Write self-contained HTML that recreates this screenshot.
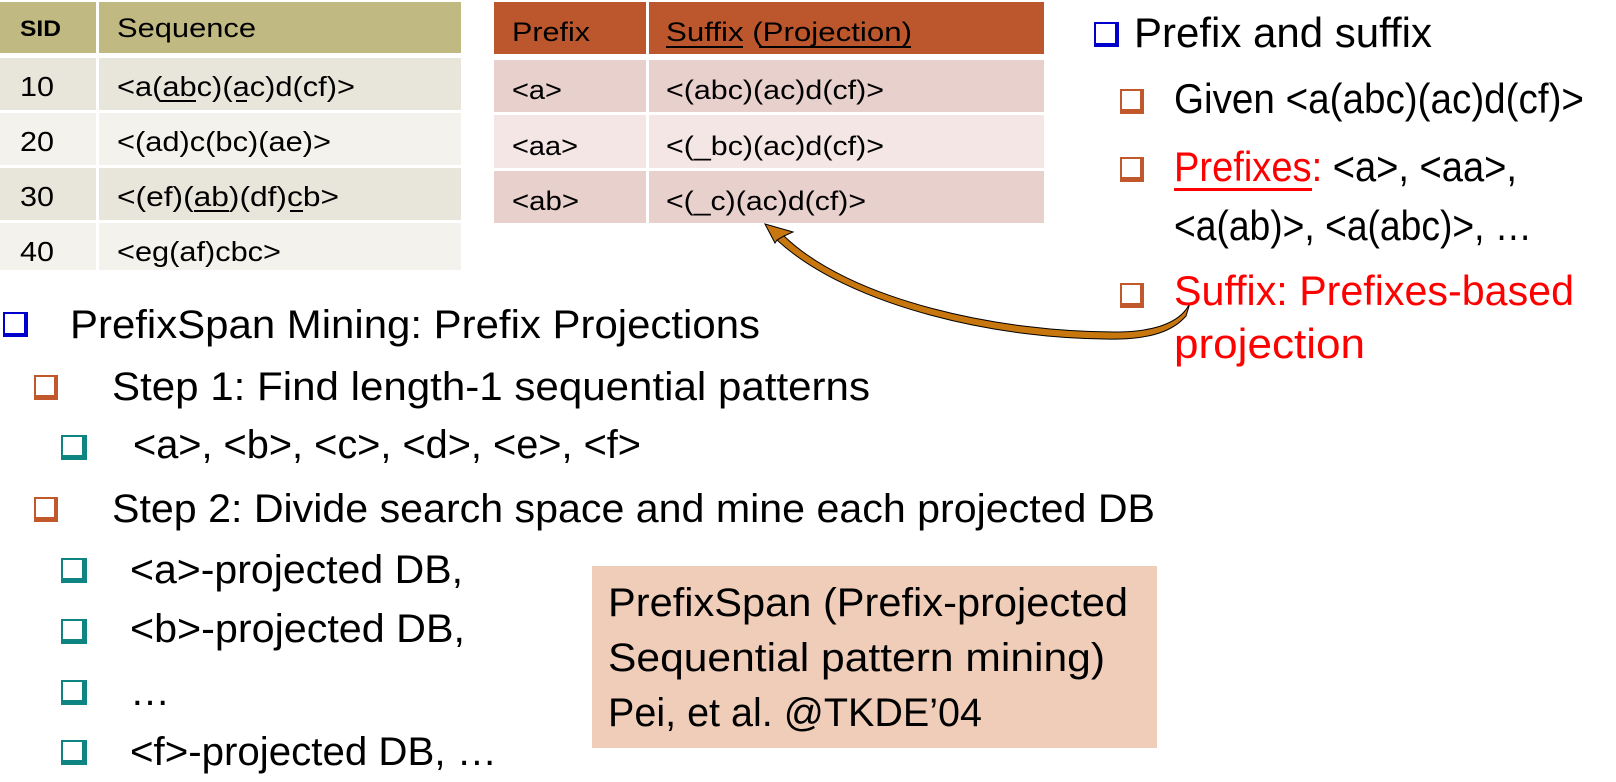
<!DOCTYPE html>
<html><head><meta charset="utf-8"><style>
html,body{margin:0;padding:0;background:#fff;}
svg{display:block;}
text{font-family:"Liberation Sans",sans-serif;fill:#000;}
</style></head><body>
<svg width="1616" height="782" viewBox="0 0 1616 782" xmlns="http://www.w3.org/2000/svg">
<defs>
<g id="bb"><rect x="0" y="0" width="25" height="25" fill="#0000cc"/><rect x="2" y="2" width="19" height="19" fill="#fff"/></g>
<g id="ob"><rect x="0" y="0" width="24" height="25" fill="#c0582c"/><rect x="2" y="2" width="18" height="18" fill="#fff"/></g>
<g id="tb"><rect x="0" y="0" width="26" height="25" fill="#0e8582"/><rect x="2" y="2" width="19" height="18" fill="#fff"/></g>
</defs>

<!-- Table 1 -->
<rect x="0" y="2" width="461" height="51" fill="#c0b982"/>
<rect x="0" y="58" width="461" height="52" fill="#e8e6da"/>
<rect x="0" y="113" width="461" height="52" fill="#f3f2ec"/>
<rect x="0" y="168" width="461" height="52" fill="#e8e6da"/>
<rect x="0" y="223" width="461" height="47" fill="#f3f2ec"/>
<rect x="96" y="0" width="3" height="272" fill="#fff"/>
<text x="20" y="36" font-size="22" font-weight="bold" textLength="41" lengthAdjust="spacingAndGlyphs">SID</text>
<text x="117" y="37" font-size="27" textLength="139" lengthAdjust="spacingAndGlyphs">Sequence</text>
<text x="20" y="96" font-size="28" textLength="34" lengthAdjust="spacingAndGlyphs">10</text>
<text x="117" y="96" font-size="28" textLength="238" lengthAdjust="spacingAndGlyphs">&lt;a(abc)(ac)d(cf)&gt;</text>
<rect x="161" y="100" width="35" height="2" fill="#000"/><rect x="236" y="100" width="11" height="2" fill="#000"/>
<text x="20" y="151" font-size="28" textLength="34" lengthAdjust="spacingAndGlyphs">20</text>
<text x="117" y="151" font-size="28" textLength="214" lengthAdjust="spacingAndGlyphs">&lt;(ad)c(bc)(ae)&gt;</text>
<text x="20" y="206" font-size="28" textLength="34" lengthAdjust="spacingAndGlyphs">30</text>
<text x="117" y="206" font-size="28" textLength="222" lengthAdjust="spacingAndGlyphs">&lt;(ef)(ab)(df)cb&gt;</text>
<rect x="194" y="210" width="35" height="2" fill="#000"/><rect x="290" y="210" width="13" height="2" fill="#000"/>
<text x="20" y="261" font-size="28" textLength="34" lengthAdjust="spacingAndGlyphs">40</text>
<text x="117" y="261" font-size="28" textLength="164" lengthAdjust="spacingAndGlyphs">&lt;eg(af)cbc&gt;</text>

<!-- Table 2 -->
<rect x="494" y="2" width="550" height="52" fill="#bc562c"/>
<rect x="494" y="60" width="550" height="52" fill="#e8d0cc"/>
<rect x="494" y="115" width="550" height="53" fill="#f3e6e4"/>
<rect x="494" y="171" width="550" height="52" fill="#e8d0cc"/>
<rect x="646" y="0" width="3" height="225" fill="#fff"/>
<text x="512" y="41" font-size="27" textLength="78" lengthAdjust="spacingAndGlyphs">Prefix</text>
<text x="666" y="41" font-size="27" textLength="246" lengthAdjust="spacingAndGlyphs">Suffix (Projection)</text>
<rect x="666" y="46" width="77" height="2" fill="#000"/><rect x="759" y="46" width="152" height="2" fill="#000"/>
<text x="512" y="99" font-size="27" textLength="50" lengthAdjust="spacingAndGlyphs">&lt;a&gt;</text>
<text x="666" y="99" font-size="27" textLength="218" lengthAdjust="spacingAndGlyphs">&lt;(abc)(ac)d(cf)&gt;</text>
<text x="512" y="155" font-size="27" textLength="66" lengthAdjust="spacingAndGlyphs">&lt;aa&gt;</text>
<text x="666" y="155" font-size="27" textLength="218" lengthAdjust="spacingAndGlyphs">&lt;(_bc)(ac)d(cf)&gt;</text>
<text x="512" y="210" font-size="27" textLength="67" lengthAdjust="spacingAndGlyphs">&lt;ab&gt;</text>
<text x="666" y="210" font-size="27" textLength="200" lengthAdjust="spacingAndGlyphs">&lt;(_c)(ac)d(cf)&gt;</text>

<!-- Arrow -->
<path d="M 784,236 C 850,300 1000,333 1120,332 C 1160,331 1182,320 1190,303 L 1186,316 C 1172,332 1150,338 1120,339 C 1000,341 848,306 777,240 Z" fill="#c8770f" stroke="#000" stroke-width="1"/>
<path d="M 765,224 L 793,232 L 784,236 L 777,240 L 775,243 Z" fill="#c8770f" stroke="#000" stroke-width="1"/>

<!-- Right column -->
<use href="#bb" x="1094" y="22"/>
<text x="1134" y="47" font-size="42" textLength="298" lengthAdjust="spacingAndGlyphs">Prefix and suffix</text>
<use href="#ob" x="1120" y="89"/>
<text x="1174" y="113" font-size="42" textLength="410" lengthAdjust="spacingAndGlyphs">Given &lt;a(abc)(ac)d(cf)&gt;</text>
<use href="#ob" x="1120" y="157"/>
<text x="1174" y="181" font-size="42" textLength="343" lengthAdjust="spacingAndGlyphs"><tspan style="fill:#ff0000">Prefixes:</tspan> &lt;a&gt;, &lt;aa&gt;,</text>
<rect x="1174" y="188" width="138" height="3" fill="#ff0000"/>
<text x="1174" y="240" font-size="42" textLength="358" lengthAdjust="spacingAndGlyphs">&lt;a(ab)&gt;, &lt;a(abc)&gt;, …</text>
<use href="#ob" x="1120" y="283"/>
<text x="1174" y="305" font-size="42" style="fill:#ff0000" textLength="400" lengthAdjust="spacingAndGlyphs">Suffix: Prefixes-based</text>
<text x="1174" y="358" font-size="42" style="fill:#ff0000" textLength="191" lengthAdjust="spacingAndGlyphs">projection</text>

<!-- Left bullets -->
<use href="#bb" x="3" y="312"/>
<text x="70" y="338" font-size="40" textLength="690" lengthAdjust="spacingAndGlyphs">PrefixSpan Mining: Prefix Projections</text>
<use href="#ob" x="34" y="375"/>
<text x="112" y="400" font-size="40" textLength="758" lengthAdjust="spacingAndGlyphs">Step 1: Find length-1 sequential patterns</text>
<use href="#tb" x="61" y="435"/>
<text x="133" y="458" font-size="40" textLength="508" lengthAdjust="spacingAndGlyphs">&lt;a&gt;, &lt;b&gt;, &lt;c&gt;, &lt;d&gt;, &lt;e&gt;, &lt;f&gt;</text>
<use href="#ob" x="34" y="497"/>
<text x="112" y="522" font-size="40" textLength="1043" lengthAdjust="spacingAndGlyphs">Step 2: Divide search space and mine each projected DB</text>
<use href="#tb" x="61" y="558"/>
<text x="130" y="583" font-size="40" textLength="333" lengthAdjust="spacingAndGlyphs">&lt;a&gt;-projected DB,</text>
<use href="#tb" x="61" y="619"/>
<text x="130" y="642" font-size="40" textLength="335" lengthAdjust="spacingAndGlyphs">&lt;b&gt;-projected DB,</text>
<use href="#tb" x="61" y="680"/>
<text x="130" y="705" font-size="40">…</text>
<use href="#tb" x="61" y="740"/>
<text x="130" y="765" font-size="40" textLength="367" lengthAdjust="spacingAndGlyphs">&lt;f&gt;-projected DB, …</text>

<!-- Citation box -->
<rect x="592" y="566" width="565" height="182" fill="#efcdb9"/>
<text x="608" y="616" font-size="40" textLength="520" lengthAdjust="spacingAndGlyphs">PrefixSpan (Prefix-projected</text>
<text x="608" y="671" font-size="40" textLength="497" lengthAdjust="spacingAndGlyphs">Sequential pattern mining)</text>
<text x="608" y="726" font-size="40" textLength="374" lengthAdjust="spacingAndGlyphs">Pei, et al. @TKDE’04</text>
</svg>
</body></html>
